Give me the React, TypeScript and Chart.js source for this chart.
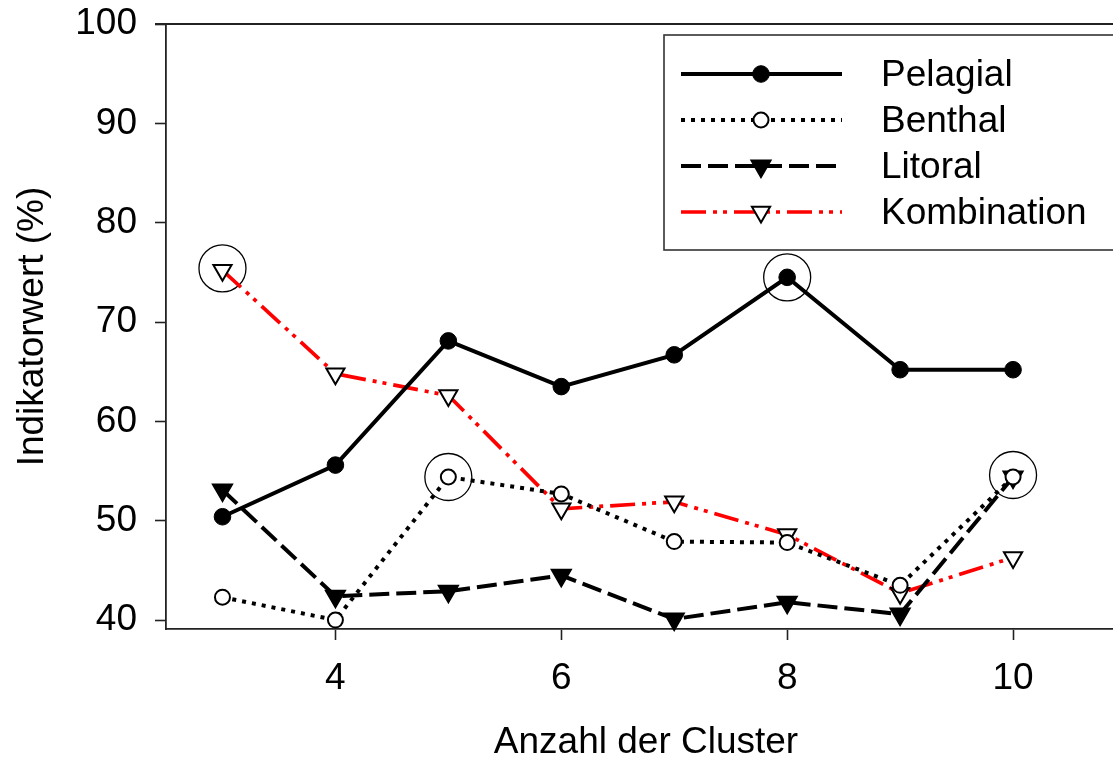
import { useEffect, useRef } from "react";
import { Chart, registerables } from "chart.js";

Chart.register(...registerables);

// Number of clusters on the x axis
const clusterCounts = [3, 4, 5, 6, 7, 8, 9, 10];

// Indicator values (%) per habitat
const pelagial = [50.4, 55.6, 68.1, 63.5, 66.7, 74.5, 65.2, 65.2];
const benthal = [42.3, 40.0, 54.4, 52.7, 47.9, 47.8, 43.5, 54.4];
const litoral = [53.1, 42.4, 42.9, 44.5, 40.1, 41.8, 40.6, 54.4];
const kombination = [75.2, 64.8, 62.6, 51.2, 51.9, 48.6, 42.7, 46.3];

// Best value per cluster count, ringed in the plot
const highlightX = [3, 5, 8, 10];
const highlightY = [75.4, 54.4, 74.5, 54.6];

// Axis ticks
const xTicks = [4, 6, 8, 10];
const yTicks = [40, 50, 60, 70, 80, 90, 100];

const FONT = "'Liberation Sans', Arial, Helvetica, sans-serif";
const FONT_SIZE = 37;

const toPoints = (ys: number[]) => clusterCounts.map((x, i) => ({ x, y: ys[i] }));

type Marker = "circle" | "triangle";

// Legend drawn inside a framed box at the upper right of the plot
const legendBox = {
  id: "legendBox",
  afterDraw(chart: any) {
    const { ctx } = chart;
    const boxLeft = 664;
    const boxTop = 35;
    const boxBottom = 250;
    ctx.save();
    ctx.strokeStyle = "#333";
    ctx.lineWidth = 1.6;
    ctx.setLineDash([]);
    ctx.strokeRect(boxLeft, boxTop, chart.width + 20 - boxLeft, boxBottom - boxTop);

    const rows = chart.data.datasets.filter((d: any) => d.legendLabel);
    rows.forEach((ds: any, i: number) => {
      const y = 74 + i * 46;
      ctx.save();
      ctx.strokeStyle = ds.borderColor;
      ctx.lineWidth = ds.borderWidth;
      ctx.lineCap = "butt";
      ctx.setLineDash(ds.borderDash || []);
      ctx.beginPath();
      ctx.moveTo(681, y);
      ctx.lineTo(842, y);
      ctx.stroke();
      ctx.restore();

      // marker
      const mx = 761;
      const r = ds.pointRadius;
      ctx.save();
      ctx.setLineDash([]);
      ctx.fillStyle = ds.pointBackgroundColor;
      ctx.strokeStyle = ds.pointBorderColor;
      ctx.lineWidth = ds.pointBorderWidth;
      ctx.beginPath();
      if ((ds.pointStyle as Marker) === "circle") {
        ctx.arc(mx, y, r, 0, Math.PI * 2);
      } else {
        let rad = Math.PI;
        ctx.moveTo(mx + Math.sin(rad) * r, y - Math.cos(rad) * r);
        rad += (2 * Math.PI) / 3;
        ctx.lineTo(mx + Math.sin(rad) * r, y - Math.cos(rad) * r);
        rad += (2 * Math.PI) / 3;
        ctx.lineTo(mx + Math.sin(rad) * r, y - Math.cos(rad) * r);
        ctx.closePath();
      }
      ctx.fill();
      ctx.stroke();
      ctx.restore();

      ctx.fillStyle = "#000";
      ctx.font = `${FONT_SIZE}px ${FONT}`;
      ctx.textAlign = "left";
      ctx.textBaseline = "middle";
      ctx.fillText(ds.legendLabel, 881, y + 2);
    });
    ctx.restore();
  },
};

// Frame line along the top of the plot area
const topFrame = {
  id: "topFrame",
  afterDraw(chart: any) {
    const { ctx, chartArea } = chart;
    ctx.save();
    ctx.strokeStyle = "#222";
    ctx.lineWidth = 1.8;
    ctx.beginPath();
    ctx.moveTo(chartArea.left - 11, chartArea.top);
    ctx.lineTo(chart.width, chartArea.top);
    ctx.stroke();
    ctx.restore();
  },
};

const noScalePadding = (scale: any) => {
  scale.paddingLeft = 0;
  scale.paddingRight = 0;
  scale.paddingTop = 0;
  scale.paddingBottom = 0;
};

export default function App() {
  const canvasRef = useRef<HTMLCanvasElement | null>(null);

  useEffect(() => {
    const canvas = canvasRef.current;
    if (!canvas) return;

    const chart = new Chart(canvas, {
      type: "line",
      data: {
        datasets: [
          {
            legendLabel: "Pelagial",
            data: toPoints(pelagial),
            borderColor: "#000",
            borderWidth: 4,
            pointStyle: "circle",
            pointRadius: 8.3,
            pointBorderWidth: 1,
            pointBackgroundColor: "#000",
            pointBorderColor: "#000",
            clip: false,
          },
          {
            legendLabel: "Benthal",
            data: toPoints(benthal),
            borderColor: "#000",
            borderWidth: 4,
            borderDash: [4, 6],
            pointStyle: "circle",
            pointRadius: 7.5,
            pointBorderWidth: 2,
            pointBackgroundColor: "#fff",
            pointBorderColor: "#000",
            clip: false,
          },
          {
            legendLabel: "Litoral",
            data: toPoints(litoral),
            borderColor: "#000",
            borderWidth: 4,
            borderDash: [20, 7],
            pointStyle: "triangle",
            pointRotation: 180,
            pointRadius: 11.5,
            pointBorderWidth: 1.5,
            pointBackgroundColor: "#000",
            pointBorderColor: "#000",
            clip: false,
          },
          {
            legendLabel: "Kombination",
            data: toPoints(kombination),
            borderColor: "#ff0000",
            borderWidth: 3.7,
            borderDash: [25, 7, 4, 6, 4, 7],
            pointStyle: "triangle",
            pointRotation: 180,
            pointRadius: 10.5,
            pointBorderWidth: 2,
            pointBackgroundColor: "#fff",
            pointBorderColor: "#000",
            clip: false,
          },
          {
            data: highlightX.map((x, i) => ({ x, y: highlightY[i] })),
            showLine: false,
            pointStyle: "circle",
            pointRadius: 23.5,
            pointBorderWidth: 1.3,
            pointBackgroundColor: "rgba(0,0,0,0)",
            pointBorderColor: "#000",
            borderColor: "#000",
            clip: false,
          },
        ] as any,
      },
      options: {
        animation: false,
        responsive: false,
        maintainAspectRatio: false,
        layout: { autoPadding: false, padding: { left: 0, top: 24, right: 0, bottom: 0 } },
        plugins: {
          legend: { display: false },
          tooltip: { enabled: false },
        },
        elements: { line: { tension: 0, borderCapStyle: "butt" } },
        scales: {
          x: {
            type: "linear",
            min: 2.5,
            max: 11,
            afterBuildTicks: (scale: any) => {
              scale.ticks = xTicks.map((value) => ({ value }));
            },
            afterFit: (scale: any) => {
              scale.height = 132;
              noScalePadding(scale);
            },
            grid: {
              drawOnChartArea: false,
              drawTicks: true,
              tickLength: 11,
              tickWidth: 1.6,
              tickColor: "#222",
            },
            border: { display: true, color: "#222", width: 1.8 },
            ticks: {
              color: "#000",
              padding: 17,
              maxRotation: 0,
              font: { family: FONT, size: FONT_SIZE },
              callback: (v: any) => String(v),
            },
            title: {
              display: true,
              text: "Anzahl der Cluster",
              color: "#000",
              font: { family: FONT, size: FONT_SIZE, lineHeight: 1 },
              padding: { top: -9.5, bottom: 0 },
            },
          },
          y: {
            type: "linear",
            min: 39.1,
            max: 100,
            afterBuildTicks: (scale: any) => {
              scale.ticks = yTicks.map((value) => ({ value }));
            },
            afterFit: (scale: any) => {
              scale.width = 166;
              noScalePadding(scale);
            },
            grid: {
              drawOnChartArea: false,
              drawTicks: true,
              tickLength: 11,
              tickWidth: 1.6,
              tickColor: "#222",
            },
            border: { display: true, color: "#222", width: 1.8 },
            ticks: {
              color: "#000",
              padding: 18,
              font: { family: FONT, size: FONT_SIZE },
              callback: (v: any) => String(v),
            },
            title: {
              display: true,
              text: "Indikatorwert (%)",
              color: "#000",
              font: { family: FONT, size: FONT_SIZE, lineHeight: 1 },
              padding: { top: 14, bottom: 0 },
            },
          },
        },
      } as any,
      plugins: [topFrame, legendBox],
    });

    return () => chart.destroy();
  }, []);

  return (
    <div
      style={{
        position: "fixed",
        left: 0,
        top: 0,
        width: 1113,
        height: 761,
        overflow: "hidden",
        background: "#fff",
      }}
    >
      <canvas ref={canvasRef} width={1126} height={761} style={{ display: "block" }} />
    </div>
  );
}
